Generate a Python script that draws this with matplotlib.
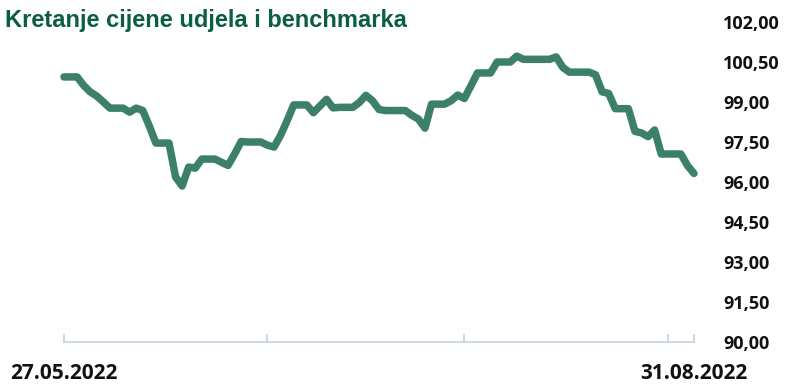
import matplotlib
matplotlib.use("Agg")
import matplotlib.pyplot as plt
import pandas as pd

title = "Kretanje cijene udjela i benchmarka"
start_date = "2022-05-27"

# Daily unit price (weekend values carried over from Friday)
price = [
    99.94, 99.94, 99.94, 99.62, 99.38, 99.22, 99.00, 98.77, 98.77, 98.77,
    98.62, 98.77, 98.68, 98.10, 97.46, 97.46, 97.46, 96.19, 95.85, 96.56,
    96.52, 96.86, 96.86, 96.86, 96.74, 96.62, 97.05, 97.52, 97.50, 97.50,
    97.50, 97.38, 97.31, 97.75, 98.30, 98.89, 98.89, 98.89, 98.60, 98.85,
    99.10, 98.78, 98.80, 98.80, 98.80, 98.98, 99.25, 99.05, 98.72, 98.68,
    98.68, 98.68, 98.68, 98.50, 98.36, 98.02, 98.92, 98.92, 98.92, 99.05,
    99.26, 99.13, 99.60, 100.09, 100.09, 100.09, 100.50, 100.50, 100.50, 100.72,
    100.60, 100.60, 100.60, 100.60, 100.60, 100.69, 100.30, 100.12, 100.12, 100.12,
    100.12, 100.02, 99.38, 99.32, 98.75, 98.75, 98.75, 97.90, 97.84, 97.70,
    97.95, 97.05, 97.05, 97.05, 97.05, 96.62, 96.32,
]

x_tick_dates = ["2022-05-27", "2022-06-27", "2022-07-27", "2022-08-27", "2022-08-31"]
x_tick_labels = ["27.05.2022", "", "", "", "31.08.2022"]
y_ticks = [90.0, 91.5, 93.0, 94.5, 96.0, 97.5, 99.0, 100.5, 102.0]
y_tick_labels = ["90,00", "91,50", "93,00", "94,50", "96,00", "97,50", "99,00", "100,50", "102,00"]

dates = pd.date_range(start_date, periods=len(price), freq="D")

fig = plt.figure(figsize=(7.92, 3.84), dpi=100)
ax = fig.add_axes([64 / 792, 42 / 384, 630 / 792, 320 / 384])

ax.plot(dates, price, color="#3d8068", linewidth=5.4,
        solid_joinstyle="round", solid_capstyle="round", clip_on=False)

ax.set_xlim(dates[0], dates[-1])
ax.set_ylim(90, 102)

for side in ("top", "right", "left"):
    ax.spines[side].set_visible(False)
ax.spines["bottom"].set_color("#c8d4e6")
ax.spines["bottom"].set_linewidth(1.3)

tick_pos = pd.to_datetime(x_tick_dates)
ax.set_xticks(tick_pos)
ax.set_xticklabels(x_tick_labels)
ax.tick_params(axis="x", direction="in", length=6, width=1.3, color="#c8d4e6",
               pad=15, labelsize=15)
for lbl in ax.get_xticklabels():
    lbl.set_fontfamily("Open Sans")
    lbl.set_fontweight("bold")
    lbl.set_color("#111111")

ax.yaxis.tick_right()
ax.set_yticks(y_ticks)
ax.set_yticklabels(y_tick_labels)
ax.tick_params(axis="y", length=0, pad=21, labelsize=13)
for lbl in ax.get_yticklabels():
    lbl.set_fontfamily("Open Sans")
    lbl.set_fontweight("bold")
    lbl.set_color("#111111")
    lbl.set_horizontalalignment("left")

fig.text(5 / 792, 1 - 20 / 384, title, fontsize=17, fontweight="bold",
         color="#0b5e3e", family="Liberation Sans", va="center", ha="left")

fig.savefig("out.png", dpi=100)
